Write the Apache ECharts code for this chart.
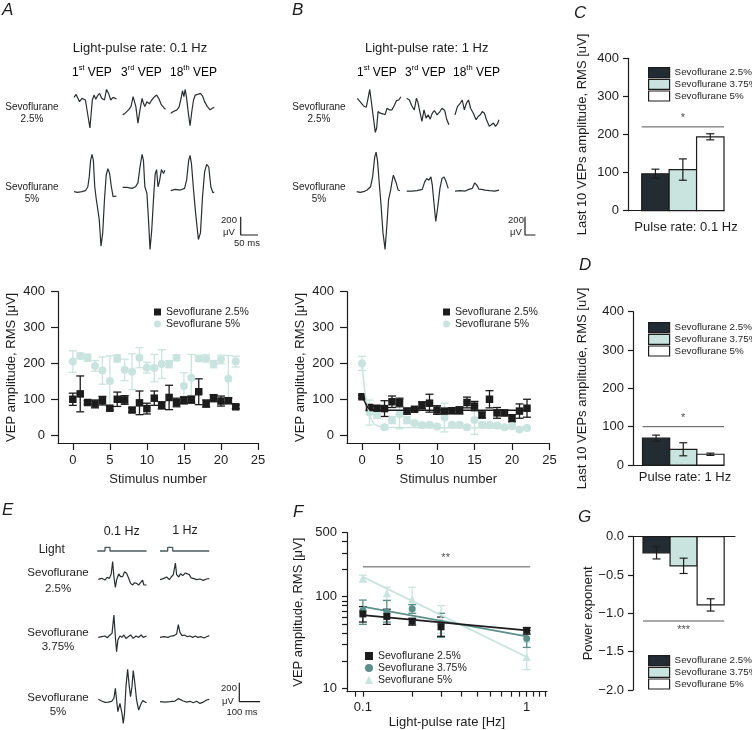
<!DOCTYPE html>
<html>
<head>
<meta charset="utf-8">
<script src="https://cdn.jsdelivr.net/npm/echarts@6/dist/echarts.min.js"></script>
<style>
html, body { margin: 0; padding: 0; background: #fff; }
#main { width: 752px; height: 730px; }
</style>
</head>
<body>
<div id="main"></div>
<script>
// ---- data ----
var stimulus = [0,1,2,3,4,5,6,7,8,9,10,11,12,13,14,15,16,17,18,19,20,21,22];

// panel A, 0.1 Hz
var a25 = [100,115,91,87,96,75,100,98,70,90,74,103,83,105,91,97,99,121,88,103,95,96,79];
var a25Err = [17,50,5,11,12,5,20,12,6,33,15,20,10,34,12,10,10,36,10,10,14,8,5];
var a5 = [205,221,216,193,180,151,214,182,177,216,188,187,198,198,216,137,160,214,214,198,211,157,205];
var a5Err = [30,8,10,15,38,70,10,30,50,28,15,38,40,10,8,37,65,8,10,10,12,65,15];

// panel B, 1 Hz
var b25 = [107,77,75,74,93,91,67,72,83,89,70,67,68,69,91,81,56,100,62,62,47,67,75];
var b25Err = [4,8,6,22,16,12,8,5,10,25,12,5,8,10,15,13,8,24,15,8,10,20,25];
var b5 = [200,63,57,22,42,58,42,34,28,29,24,49,29,29,22,42,29,29,27,22,25,16,20];
var b5Err = [20,35,10,5,10,40,10,5,4,5,4,40,4,4,4,40,4,4,4,4,5,4,4];
var b25Fit = [[0,107],[0.5,88],[0.9,74],[1.5,70],[3,69],[22,69]];
var b5Fit = [[0,200],[0.4,120],[0.85,70],[1.5,34],[2.2,25],[3,22],[22,20]];

// bar panels
var concNames = ['Sevoflurane 2.5%', 'Sevoflurane 3.75%', 'Sevoflurane 5%'];
var cMean = [97, 108, 194];
var cErr = [12, 28, 8];
var dMean = [70, 41, 28];
var dErr = [8, 17, 3];
var gMean = [-0.21, -0.38, -0.89];
var gErr = [0.08, 0.1, 0.08];

// panel F
var fRates = [0.1, 0.14, 0.2, 0.3, 1];
var f25 = [65, 61, 54, 47, 43];
var f25Lo = [53, 50, 49, 37, 39];
var f25Hi = [78, 73, 58, 60, 46];
var f375 = [71, 68, 74, 51, 35];
var f375Lo = [50, 53, 66, 36, 28];
var f375Hi = [92, 91, 82, 66, 43];
var f5 = [159, 109, 94, 56, 22];
var f5Lo = [145, 92, 70, 40, 16];
var f5Hi = [172, 127, 127, 80, 32];
var f25Fit = [[0.1, 63], [1, 43]];
var f375Fit = [[0.1, 78], [1, 37]];
var f5Fit = [[0.1, 165], [1, 22]];

// example traces, [ms, uV]
var trA25_1 = [[0,29],[6,61],[16,-18],[23,18],[33,0],[36,11],[46,-306],[53,0],[58,54],[63,7],[68,47],[74,72],[80,18],[88,0],[94,115],[100,72],[106,0],[113,29],[123,11]];
var trA25_3 = [[0,-162],[7,-144],[17,-108],[24,-72],[30,36],[34,54],[38,-72],[44,-252],[50,-108],[56,18],[60,-36],[64,-72],[70,-18],[77,-43],[84,0],[92,36],[98,54],[104,18],[112,-54],[120,-90],[124,-101]];
var trA25_18 = [[0,-144],[8,-126],[18,-108],[24,-79],[29,0],[34,101],[38,36],[42,115],[46,18],[51,-144],[56,-281],[61,-126],[66,0],[71,54],[78,61],[86,72],[92,43],[98,-18],[106,-72],[114,-108],[120,-90],[126,-79]];
var trA5_1 = [[0,0],[10,-7],[23,0],[33,11],[40,54],[44,162],[48,342],[52,407],[56,342],[60,54],[64,-72],[68,-90],[73,-306],[78,-594],[83,-450],[88,-90],[93,180],[98,252],[103,198],[108,54],[113,-54],[118,-36],[123,-47]];
var trA5_3 = [[0,47],[12,47],[27,36],[37,54],[44,97],[50,270],[56,407],[60,342],[64,54],[70,-18],[74,-270],[79,-630],[84,-414],[90,-18],[94,198],[98,241],[102,54],[106,108],[112,241],[118,198],[122,234]];
var trA5_18 = [[0,11],[13,25],[28,18],[40,36],[46,126],[52,342],[56,396],[60,306],[66,18],[72,-234],[80,-522],[86,-450],[92,-54],[98,216],[104,299],[110,270],[116,54],[122,-11],[126,-4]];
var trB25_1 = [[0,18],[8,-18],[18,-65],[26,-79],[32,36],[36,115],[40,0],[46,-180],[52,-353],[56,-306],[60,-126],[66,-144],[74,-151],[80,-162],[86,-90],[93,-108],[100,-108],[106,-65],[113,-7],[120,0],[126,36]];
var trB25_3 = [[0,18],[8,0],[15,-65],[22,-108],[28,18],[32,-18],[38,-126],[44,-234],[50,-108],[56,-198],[62,-162],[68,-209],[74,-144],[80,-115],[88,-162],[96,-126],[102,-90],[110,-115],[116,-216],[122,-270]];
var trB25_18 = [[0,-162],[7,-72],[15,-36],[21,0],[27,-108],[33,-36],[39,0],[45,-90],[53,-144],[61,-216],[67,-180],[73,-162],[79,-126],[85,-144],[91,-216],[99,-288],[105,-270],[111,-252],[117,-288],[123,-259],[127,-216]];
var trB5_1 = [[0,0],[10,-7],[20,0],[30,18],[40,54],[46,162],[52,378],[56,432],[60,342],[66,54],[70,-126],[76,-450],[82,-630],[87,-378],[92,-90],[98,18],[102,108],[106,180],[110,162],[114,97],[120,18],[125,11]];
var trB5_3 = [[0,7],[15,7],[30,11],[45,25],[52,108],[58,144],[64,126],[70,162],[74,72],[78,-90],[84,-324],[90,-162],[96,36],[102,144],[108,162],[114,108],[120,36]];
var trB5_18 = [[0,7],[15,11],[30,7],[40,25],[50,36],[57,97],[63,72],[69,29],[77,25],[87,18],[100,11],[115,7],[127,18]];
var trE25_01 = [[0,-4],[16,7],[32,-11],[43,18],[53,4],[62,53],[69,182],[75,25],[82,-88],[88,-11],[98,53],[107,25],[117,25],[126,77],[136,60],[146,7],[155,-46],[165,-63],[174,-39],[184,-46],[194,-63],[203,-39],[213,-11],[219,-63],[226,-46],[232,-63]];
var trE25_1 = [[0,-7],[16,4],[32,21],[45,-7],[54,21],[64,46],[74,168],[80,46],[90,21],[99,56],[109,35],[122,63],[131,81],[141,46],[150,11],[163,4],[176,-7],[192,0],[208,-14],[224,0],[237,4]];
var trE375_01 = [[0,-7],[16,0],[32,7],[43,-11],[56,18],[66,35],[75,228],[82,0],[88,-158],[94,-35],[104,7],[114,-7],[123,18],[133,-18],[142,0],[155,18],[168,-18],[181,7],[194,-7],[206,18],[216,-7],[232,7]];
var trE375_1 = [[0,-7],[19,0],[38,-7],[54,7],[67,11],[80,28],[88,126],[96,46],[106,11],[118,18],[131,0],[144,7],[157,-7],[170,7],[182,-7],[198,0],[211,-14],[224,0],[237,11]];
var trE5_01 = [[0,25],[16,7],[32,-7],[48,-4],[64,4],[75,35],[82,140],[88,18],[94,-105],[104,-18],[114,-123],[120,-228],[126,-123],[133,158],[141,340],[149,158],[155,53],[162,158],[168,326],[174,228],[184,18],[194,-88],[203,-35],[213,11],[222,0],[232,-11]];
var trE5_1 = [[0,0],[24,-4],[48,0],[72,7],[88,32],[96,18],[112,7],[128,-4],[144,4],[160,-11],[176,4],[192,-18],[208,-4],[224,18],[237,25]];
var lightPulse = [[0,0],[37,0],[37,1],[61,1],[61,0],[237,0]];

// ---- styling ----
var FONT = '"Liberation Sans", Arial, Helvetica, sans-serif';
var INK = '#1c1c1c';
var DARK = '#232c33';
var MINT = '#c9e4de';
var TEAL = '#5d8f8b';
var TRACE = '#2a2e30';

var grids = [], xAxes = [], yAxes = [], series = [], legends = [], graphics = [];

function addGrid(g, xa, ya) {
    var i = grids.length;
    grids.push(g);
    xa.gridIndex = i;
    ya.gridIndex = i;
    xAxes.push(xa);
    yAxes.push(ya);
    return i;
}

function axis(o) {
    var a = {
        axisLine: { onZero: false, lineStyle: { color: INK, width: 1.2 } },
        axisTick: { length: 6, lineStyle: { color: INK, width: 1.2 } },
        axisLabel: { color: INK, fontSize: 13, fontFamily: FONT },
        splitLine: { show: false },
        nameLocation: 'middle',
        nameTextStyle: { color: INK, fontSize: 13, fontFamily: FONT }
    };
    for (var k in o) {
        if (a[k] && typeof o[k] === 'object' && !Array.isArray(o[k])) {
            for (var kk in o[k]) a[k][kk] = o[k][kk];
        } else {
            a[k] = o[k];
        }
    }
    return a;
}

// one hidden grid per trace so every trace keeps the figure's uV / ms scale
function addTrace(left, base, pts, sx, sy, color, width, vmin, vmax) {
    vmin = vmin === undefined ? -700 : vmin;
    vmax = vmax === undefined ? 500 : vmax;
    var tmax = 240;
    var i = addGrid(
        { left: left, top: base - vmax * sy, width: tmax * sx, height: (vmax - vmin) * sy },
        { type: 'value', min: 0, max: tmax, show: false },
        { type: 'value', min: vmin, max: vmax, show: false }
    );
    series.push({
        type: 'line', xAxisIndex: i, yAxisIndex: i, data: pts, symbol: 'none',
        silent: true, clip: false, lineStyle: { color: color, width: width || 1.2 }
    });
}

function errRender(cap) {
    return function (params, api) {
        var x = api.value(0);
        var p1 = api.coord([x, api.value(1)]);
        var p2 = api.coord([x, api.value(2)]);
        var st = { stroke: api.visual('color'), lineWidth: 1.3 };
        return {
            type: 'group', children: [
                { type: 'line', shape: { x1: p1[0], y1: p1[1], x2: p2[0], y2: p2[1] }, style: st },
                { type: 'line', shape: { x1: p1[0] - cap, y1: p1[1], x2: p1[0] + cap, y2: p1[1] }, style: st },
                { type: 'line', shape: { x1: p2[0] - cap, y1: p2[1], x2: p2[0] + cap, y2: p2[1] }, style: st }
            ]
        };
    };
}

function barRender(params, api) {
    var x = api.value(0), m = api.value(1), e = api.value(2);
    var p0 = api.coord([x - 0.5, 0]);
    var p1 = api.coord([x + 0.5, m]);
    var t = api.coord([x, m + e]);
    var b = api.coord([x, m - e]);
    var ls = { stroke: INK, lineWidth: 1.2 };
    return {
        type: 'group', children: [
            { type: 'rect', shape: { x: p0[0], y: Math.min(p0[1], p1[1]), width: p1[0] - p0[0], height: Math.abs(p1[1] - p0[1]) },
              style: { fill: api.visual('color'), stroke: INK, lineWidth: 1.2 } },
            { type: 'line', shape: { x1: t[0], y1: t[1], x2: b[0], y2: b[1] }, style: ls },
            { type: 'line', shape: { x1: t[0] - 4, y1: t[1], x2: t[0] + 4, y2: t[1] }, style: ls },
            { type: 'line', shape: { x1: b[0] - 4, y1: b[1], x2: b[0] + 4, y2: b[1] }, style: ls }
        ]
    };
}

function addSig(gi, x0, x1, y, xm, stars, pos) {
    series.push({ type: 'line', xAxisIndex: gi, yAxisIndex: gi, data: [[x0, y], [x1, y]], symbol: 'none',
        silent: true, lineStyle: { color: '#555', width: 1 } });
    series.push({ type: 'scatter', xAxisIndex: gi, yAxisIndex: gi, data: [[xm, y]], symbolSize: 0, silent: true,
        label: { show: true, position: pos, distance: 3, formatter: stars, fontSize: 11, color: INK, fontFamily: FONT } });
}

function txt(x, y, s, size, extra) {
    var st = { text: s, fontSize: size, fontFamily: FONT, fill: INK, align: 'center', verticalAlign: 'middle' };
    for (var k in extra) st[k] = extra[k];
    graphics.push({ type: 'text', x: x, y: y, silent: true, style: st });
}

function errData(xs, mean, err) {
    return xs.map(function (x, i) { return [x, mean[i] - err[i], mean[i] + err[i]]; });
}

var stripName = function (n) { return n.split('|')[1]; };

// ---- panels A and B, amplitude per stimulus ----
function stimulusPanel(tag, left, width, d25, e25, d5, e5, fit25, fit5) {
    var gi = addGrid(
        { left: left, top: 291.7, width: width, height: 151.3 },
        axis({ type: 'value', min: -2, max: 25,
            axisTick: { customValues: [0, 5, 10, 15, 20, 25], length: 7 },
            axisLabel: { customValues: [0, 5, 10, 15, 20, 25], margin: 11 },
            name: 'Stimulus number', nameGap: 30 }),
        axis({ type: 'value', min: -22, max: 400,
            axisTick: { customValues: [0, 100, 200, 300, 400], length: 7 },
            axisLabel: { customValues: [0, 100, 200, 300, 400], margin: 13 },
            name: 'VEP amplitude, RMS [μV]', nameGap: 40 })
    );
    series.push({ type: 'custom', xAxisIndex: gi, yAxisIndex: gi, renderItem: errRender(4), silent: true,
        itemStyle: { color: MINT }, data: errData(stimulus, d5, e5) });
    if (fit5) series.push({ type: 'line', xAxisIndex: gi, yAxisIndex: gi, data: fit5, symbol: 'none', smooth: 0.4,
        silent: true, lineStyle: { color: MINT, width: 1.5 } });
    series.push({ name: tag + '|Sevoflurane 5%', type: 'scatter', xAxisIndex: gi, yAxisIndex: gi, symbol: 'circle',
        symbolSize: 8, itemStyle: { color: MINT, opacity: 1 }, data: stimulus.map(function (x, i) { return [x, d5[i]]; }) });
    series.push({ type: 'custom', xAxisIndex: gi, yAxisIndex: gi, renderItem: errRender(4), silent: true,
        itemStyle: { color: INK }, data: errData(stimulus, d25, e25) });
    if (fit25) series.push({ type: 'line', xAxisIndex: gi, yAxisIndex: gi, data: fit25, symbol: 'none', smooth: 0.4,
        silent: true, lineStyle: { color: INK, width: 1.5 } });
    series.push({ name: tag + '|Sevoflurane 2.5%', type: 'scatter', xAxisIndex: gi, yAxisIndex: gi, symbol: 'rect',
        symbolSize: 7.5, itemStyle: { color: INK, opacity: 1 }, data: stimulus.map(function (x, i) { return [x, d25[i]]; }) });
    return gi;
}

stimulusPanel('A', 58, 200, a25, a25Err, a5, a5Err, null, null);
stimulusPanel('B', 347, 202.5, b25, b25Err, b5, b5Err, b25Fit, b5Fit);

legends.push({ left: 149, top: 301, orient: 'vertical', itemWidth: 7, itemHeight: 7, itemGap: 0, selectedMode: false,
    formatter: stripName, textStyle: { fontSize: 10.5, color: INK, fontFamily: FONT, lineHeight: 12 },
    data: [{ name: 'A|Sevoflurane 2.5%', icon: 'rect' }, { name: 'A|Sevoflurane 5%', icon: 'circle' }] });
legends.push({ left: 438, top: 301, orient: 'vertical', itemWidth: 7, itemHeight: 7, itemGap: 0, selectedMode: false,
    formatter: stripName, textStyle: { fontSize: 10.5, color: INK, fontFamily: FONT, lineHeight: 12 },
    data: [{ name: 'B|Sevoflurane 2.5%', icon: 'rect' }, { name: 'B|Sevoflurane 5%', icon: 'circle' }] });

// ---- bar panels C, D, G ----
var barFills = [DARK, MINT, '#ffffff'];

function barPanel(tag, g, xmin, xmax, yAx, mean, err, xName, namePad, nameGap) {
    var gi = addGrid(g,
        axis({ type: 'value', min: xmin, max: xmax, axisTick: { show: false }, axisLabel: { show: false },
            position: tag === 'G' ? 'top' : 'bottom',
            name: xName || '', nameGap: nameGap || 6, nameTextStyle: { padding: [0, 0, 0, namePad || 0] } }),
        axis(yAx));
    for (var i = 0; i < 3; i++) {
        series.push({ name: tag + '|' + concNames[i], type: 'custom', xAxisIndex: gi, yAxisIndex: gi,
            renderItem: barRender, itemStyle: { color: barFills[i] }, data: [[i + 1, mean[i], err[i]]] });
    }
    return gi;
}

function barLegend(tag, left, top) {
    legends.push({ left: left, top: top, orient: 'vertical', itemWidth: 21, itemHeight: 10, itemGap: 0.5,
        selectedMode: false, formatter: stripName,
        textStyle: { fontSize: 9.8, color: INK, fontFamily: FONT, lineHeight: 10.5 },
        data: concNames.map(function (n, i) {
            return { name: tag + '|' + n, icon: 'rect',
                itemStyle: { color: barFills[i], borderColor: INK, borderWidth: 1.2 } };
        }) });
}

var gC = barPanel('C', { left: 628, top: 58.3, width: 96, height: 152.4 }, 0, 3.5,
    { type: 'value', min: 0, max: 400, interval: 100, axisTick: { length: 5 }, axisLabel: { margin: 9 },
      name: 'Last 10 VEPs amplitude, RMS [uV]', nameGap: 39 },
    cMean, cErr, 'Pulse rate: 0.1 Hz', 20, 10);
addSig(gC, 0.5, 3.5, 220, 2, '*', 'top');
barLegend('C', 643, 62);

var gD = barPanel('D', { left: 633, top: 311.7, width: 91, height: 153.3 }, 0.15, 3.5,
    { type: 'value', min: 0, max: 400, interval: 100, axisTick: { length: 5 }, axisLabel: { margin: 9 },
      name: 'Last 10 VEPs amplitude, RMS [uV]', nameGap: 44 },
    dMean, dErr, 'Pulse rate: 1 Hz', 13, 6);
addSig(gD, 0.5, 3.5, 100, 2, '*', 'top');
barLegend('D', 643, 317);

var gG = barPanel('G', { left: 633, top: 536.7, width: 102, height: 153.3 }, 0.13, 3.9,
    { type: 'value', min: -2, max: 0, interval: 0.5, axisTick: { length: 5 },
      axisLabel: { margin: 9, formatter: function (v) { return v.toFixed(1).replace('-', '\u2212'); } },
      name: 'Power exponent', nameGap: 33 },
    gMean, gErr, '', 0);
addSig(gG, 0.5, 3.5, -1.1, 2, '***', 'bottom');
barLegend('G', 643, 650);

// ---- panel F ----
var gF = addGrid({ left: 347, top: 532.7, width: 200, height: 159 },
    axis({ type: 'log', logBase: 10, min: 0.08, max: 1.33,
        axisTick: { customValues: [0.09, 0.1, 0.2, 0.3, 0.4, 0.5, 0.6, 0.7, 0.8, 0.9, 1, 1.1, 1.2, 1.3], length: 5 },
        axisLabel: { customValues: [0.1, 1], margin: 9 },
        name: 'Light-pulse rate [Hz]', nameGap: 24 }),
    axis({ type: 'log', logBase: 10, min: 9.2, max: 500,
        axisTick: { customValues: [10, 20, 30, 40, 50, 60, 70, 80, 90, 100, 200, 300, 400, 500], length: 5 },
        axisLabel: { customValues: [10, 100, 500], margin: 10 },
        name: 'VEP amplitude, RMS [μV]', nameGap: 42 }));

function fSeries(name, vals, lo, hi, fit, color, symbol, size) {
    series.push({ type: 'custom', xAxisIndex: gF, yAxisIndex: gF, renderItem: errRender(4), silent: true,
        itemStyle: { color: color }, data: fRates.map(function (r, i) { return [r, lo[i], hi[i]]; }) });
    series.push({ type: 'line', xAxisIndex: gF, yAxisIndex: gF, data: fit, symbol: 'none', silent: true,
        lineStyle: { color: color, width: 1.8 } });
    series.push({ name: 'F|' + name, type: 'scatter', xAxisIndex: gF, yAxisIndex: gF, symbol: symbol, symbolSize: size,
        itemStyle: { color: color, opacity: 1 }, data: fRates.map(function (r, i) { return [r, vals[i]]; }) });
}
fSeries('Sevoflurane 5%', f5, f5Lo, f5Hi, f5Fit, MINT, 'triangle', 8);
fSeries('Sevoflurane 3.75%', f375, f375Lo, f375Hi, f375Fit, TEAL, 'circle', 7);
fSeries('Sevoflurane 2.5%', f25, f25Lo, f25Hi, f25Fit, INK, 'rect', 7);
addSig(gF, 0.1, 1.05, 212, 0.32, '**', 'top');

legends.push({ left: 360, top: 645, orient: 'vertical', itemWidth: 8, itemHeight: 8, itemGap: 0, selectedMode: false,
    formatter: stripName, textStyle: { fontSize: 10.5, color: INK, fontFamily: FONT, lineHeight: 12 },
    data: [{ name: 'F|Sevoflurane 2.5%', icon: 'rect' }, { name: 'F|Sevoflurane 3.75%', icon: 'circle' },
           { name: 'F|Sevoflurane 5%', icon: 'triangle' }] });

// ---- example traces (A, B, E) ----
var sxAB = 0.346, syAB = 0.0915;
addTrace(74, 100, trA25_1, sxAB, syAB, TRACE);
addTrace(122.7, 100, trA25_3, sxAB, syAB, TRACE);
addTrace(170.7, 100, trA25_18, sxAB, syAB, TRACE);
addTrace(74, 191.7, trA5_1, sxAB, syAB, TRACE);
addTrace(122.7, 191.7, trA5_3, sxAB, syAB, TRACE);
addTrace(170.7, 191.7, trA5_18, sxAB, syAB, TRACE);
addTrace(240.7, 235, [[0, 200], [0, 0], [50, 0]], sxAB, syAB, INK, 1.2);

addTrace(357.3, 100, trB25_1, sxAB, syAB, TRACE);
addTrace(406.7, 100, trB25_3, sxAB, syAB, TRACE);
addTrace(455, 100, trB25_18, sxAB, syAB, TRACE);
addTrace(356.7, 191.7, trB5_1, sxAB, syAB, TRACE);
addTrace(406.7, 191.7, trB5_3, sxAB, syAB, TRACE);
addTrace(455, 191.7, trB5_18, sxAB, syAB, TRACE);
addTrace(525, 235, [[0, 200], [0, 0], [30, 0]], sxAB, syAB, INK, 1.2);

var sxE = 0.208, syE = 0.0952;
addTrace(97.3, 551, lightPulse, sxE, 3.7, '#4b5a5c', 1.3, -2, 3);
addTrace(160, 551, lightPulse, sxE, 3.7, '#4b5a5c', 1.3, -2, 3);
addTrace(98.3, 579, trE25_01, sxE, syE, TRACE, 1.2, -250, 400);
addTrace(160, 579, trE25_1, sxE, syE, TRACE, 1.2, -250, 400);
addTrace(98.3, 636.7, trE375_01, sxE, syE, TRACE, 1.2, -250, 400);
addTrace(160, 636.7, trE375_1, sxE, syE, TRACE, 1.2, -250, 400);
addTrace(98.3, 701.7, trE5_01, sxE, syE, TRACE, 1.2, -250, 400);
addTrace(160, 701.7, trE5_1, sxE, syE, TRACE, 1.2, -250, 400);
addTrace(239.3, 701.7, [[0, 200], [0, 0], [100, 0]], sxE, syE, INK, 1.2, -250, 400);

// ---- text ----
var letters = [['A', 2, 10], ['B', 292, 10], ['C', 574, 13], ['D', 579, 265], ['E', 2, 510], ['F', 293, 512], ['G', 578, 517]];
letters.forEach(function (l) {
    txt(l[1], l[2], l[0], 17, { align: 'left', fontStyle: 'italic' });
});

txt(140, 48, 'Light-pulse rate: 0.1 Hz', 13);
txt(426.7, 48, 'Light-pulse rate: 1 Hz', 13);

var supRich = {
    n: { fontSize: 12, fontFamily: FONT, color: INK, lineHeight: 15, verticalAlign: 'bottom' },
    s: { fontSize: 7.5, fontFamily: FONT, color: INK, lineHeight: 15, verticalAlign: 'top' }
};
function vepHeader(x, num, sup) {
    graphics.push({ type: 'text', x: x, y: 71, silent: true,
        style: { text: '{n|' + num + '}{s|' + sup + '}{n| VEP}', align: 'left', verticalAlign: 'middle', rich: supRich } });
}
vepHeader(72, '1', 'st'); vepHeader(121, '3', 'rd'); vepHeader(170, '18', 'th');
vepHeader(357, '1', 'st'); vepHeader(405, '3', 'rd'); vepHeader(453, '18', 'th');

[32, 319].forEach(function (cx) {
    txt(cx, 107, 'Sevoflurane', 10);
    txt(cx, 119, '2.5%', 10);
    txt(cx, 187, 'Sevoflurane', 10);
    txt(cx, 199, '5%', 10);
});

txt(229, 220, '200', 9.5);
txt(229, 232, 'μV', 9.5);
txt(247, 243, '50 ms', 9.5);
txt(516, 220, '200', 9.5);
txt(516, 232, 'μV', 9.5);

txt(121.7, 532, '0.1 Hz', 12.5);
txt(185, 531, '1 Hz', 12.5);
txt(51.7, 550, 'Light', 12);
txt(58, 573, 'Sevoflurane', 11.5);
txt(58, 589, '2.5%', 11.5);
txt(58, 633, 'Sevoflurane', 11.5);
txt(58, 647, '3.75%', 11.5);
txt(58, 698, 'Sevoflurane', 11.5);
txt(58, 712, '5%', 11.5);
txt(229, 688, '200', 9.5);
txt(228, 701, 'μV', 9.5);
txt(242, 712, '100 ms', 9.5);

var myChart = echarts.init(document.getElementById('main'));
myChart.setOption({
    animation: false,
    backgroundColor: '#fff',
    textStyle: { fontFamily: FONT },
    grid: grids,
    xAxis: xAxes,
    yAxis: yAxes,
    legend: legends,
    series: series,
    graphic: graphics
});
</script>
</body>
</html>
